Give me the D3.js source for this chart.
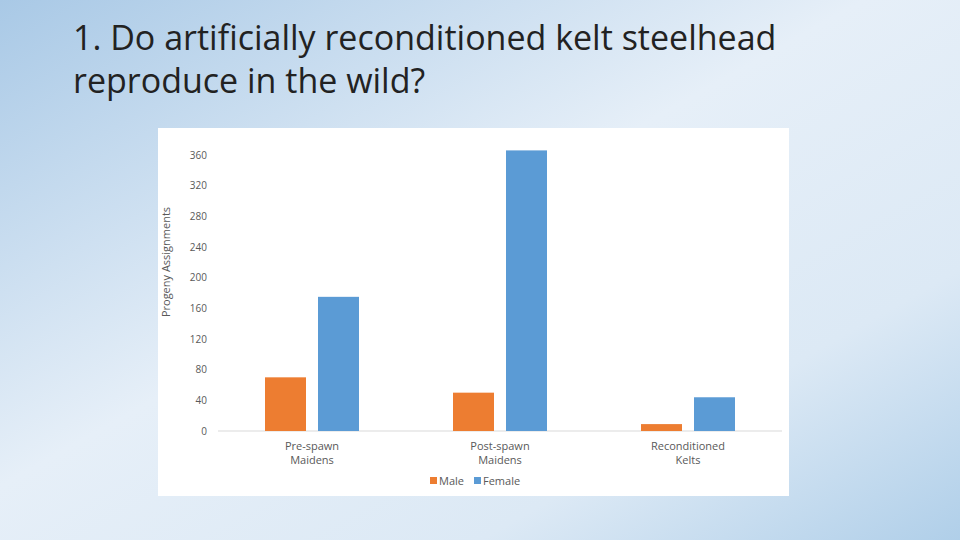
<!doctype html>
<html>
<head>
<meta charset="utf-8" />
<script src="https://cdn.jsdelivr.net/npm/d3@7"></script>
<style>
  html, body { margin: 0; padding: 0; overflow: hidden; }
  body { width: 960px; height: 540px; }
</style>
</head>
<body>
<script>
const categories = [["Pre-spawn", "Maidens"], ["Post-spawn", "Maidens"], ["Reconditioned", "Kelts"]];
const maleValues = [70, 50, 9];
const femaleValues = [175, 366, 44];
const yTicks = [0, 40, 80, 120, 160, 200, 240, 280, 320, 360];
const seriesNames = ["Male", "Female"];
const colors = ["#ed7d31", "#5b9bd5"];

const svg = d3.select("body").append("svg").attr("width", 960).attr("height", 540);

const defs = svg.append("defs");
const grad = defs.append("linearGradient").attr("id", "bg")
  .attr("x1", "0").attr("y1", "0").attr("x2", "1").attr("y2", "1");
grad.append("stop").attr("offset", "0").attr("stop-color", "#a9c9e6");
grad.append("stop").attr("offset", "0.45").attr("stop-color", "#e6eff8");
grad.append("stop").attr("offset", "0.75").attr("stop-color", "#dce9f5");
grad.append("stop").attr("offset", "1").attr("stop-color", "#b0cfe9");
svg.append("rect").attr("width", 960).attr("height", 540).attr("fill", "url(#bg)");

svg.append("text").attr("x", 73).attr("y", 50)
  .style("font", "34px 'Open Sans', sans-serif").attr("fill", "#222")
  .text("1. Do artificially reconditioned kelt steelhead");
svg.append("text").attr("x", 73).attr("y", 93)
  .style("font", "34px 'Open Sans', sans-serif").attr("fill", "#222")
  .text("reproduce in the wild?");

svg.append("rect").attr("x", 158).attr("y", 128).attr("width", 631).attr("height", 368).attr("fill", "#fff");

const x = d3.scaleBand().domain(d3.range(categories.length)).range([218, 782]);
const y = d3.scaleLinear().domain([0, 360]).range([431, 155]);
const barW = 41, gap = 12;

const g = svg.append("g").style("font-family", "'Open Sans', sans-serif");

g.selectAll(".tick").data(yTicks).join("text")
  .attr("x", 207).attr("y", d => y(d)).attr("dy", "0.35em")
  .attr("text-anchor", "end").attr("font-size", 10).attr("fill", "#595959")
  .text(d => d);

g.append("line").attr("x1", 218).attr("x2", 782).attr("y1", y(0)).attr("y2", y(0))
  .attr("stroke", "#d9d9d9");

[maleValues, femaleValues].forEach((vals, s) => {
  g.selectAll(".bar" + s).data(vals).join("rect")
    .attr("x", (d, i) => x(i) + x.bandwidth() / 2 + (s === 0 ? -gap / 2 - barW : gap / 2))
    .attr("y", d => y(d)).attr("width", barW).attr("height", d => y(0) - y(d))
    .attr("fill", colors[s]);
});

categories.forEach((c, i) => {
  const t = g.append("text").attr("text-anchor", "middle").attr("font-size", 11).attr("fill", "#595959");
  c.forEach((line, k) => t.append("tspan").attr("x", x(i) + x.bandwidth() / 2).attr("y", 450 + k * 14).text(line));
});

g.append("text").attr("transform", "translate(170,262) rotate(-90)")
  .attr("text-anchor", "middle").attr("font-size", 11).attr("fill", "#595959")
  .text("Progeny Assignments");

const leg = [430, 474];
seriesNames.forEach((n, i) => {
  g.append("rect").attr("x", leg[i]).attr("y", 477).attr("width", 7).attr("height", 7).attr("fill", colors[i]);
  g.append("text").attr("x", leg[i] + 9).attr("y", 485).attr("font-size", 11).attr("fill", "#595959").text(n);
});
</script>
</body>
</html>
